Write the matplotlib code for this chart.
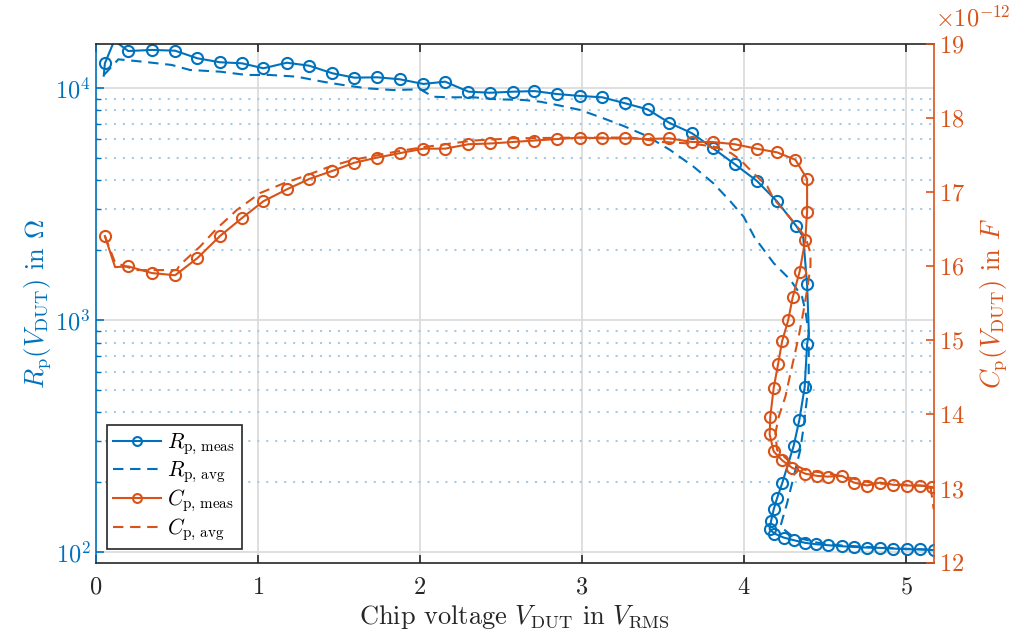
import matplotlib
matplotlib.use("Agg")
import matplotlib.pyplot as plt
from matplotlib.ticker import LogLocator, MultipleLocator, FuncFormatter, NullFormatter

plt.rcParams['font.family'] = 'serif'
plt.rcParams['font.serif'] = ['cmr10']
plt.rcParams['mathtext.fontset'] = 'cm'
plt.rcParams['axes.unicode_minus'] = False
plt.rcParams['axes.formatter.use_mathtext'] = True

BLUE = '#0072BD'
ORANGE = '#D95319'
DARK = '#262626'

# parallel resistance, measured sweep (V_RMS, Ohm)
rp_meas_v = [0.050, 0.057, 0.115, 0.201, 0.346, 0.490, 0.627, 0.767, 0.901, 1.035,
             1.179, 1.317, 1.461, 1.596, 1.738, 1.878, 2.022, 2.156, 2.300, 2.434,
             2.574, 2.707, 2.846, 2.990, 3.125, 3.267, 3.405, 3.539, 3.679, 3.809,
             3.942, 4.079, 4.204, 4.323, 4.365, 4.389, 4.400, 4.389, 4.374, 4.341,
             4.306, 4.235, 4.204, 4.183, 4.167, 4.158, 4.187, 4.244, 4.306, 4.378,
             4.446, 4.519, 4.605, 4.677, 4.759, 4.841, 4.920, 5.006, 5.088, 5.170]
rp_meas = [11300, 12780, 16000, 14430, 14590, 14480, 13430, 12910, 12780, 12160,
           12850, 12480, 11570, 11080, 11120, 10900, 10410, 10650, 9640, 9540,
           9640, 9700, 9420, 9240, 9120, 8590, 8090, 7080, 6380, 5500,
           4700, 3980, 3245, 2540, 2280, 1425, 880, 786, 513, 371,
           287, 198, 171, 153, 136.5, 125.7, 120.4, 115.7, 112.7, 109.7,
           108.2, 107.2, 106.1, 105.4, 104.7, 104.4, 103.7, 103.0, 102.8, 102.1]
rp_meas_marks = [i for i in range(len(rp_meas)) if i not in (0, 2, 34, 36)]

# parallel resistance, averaged model
rp_avg_v = [0.051, 0.140, 0.292, 0.469, 0.582, 0.767, 0.932, 1.076, 1.241, 1.403,
            1.527, 1.673, 1.835, 2.002, 2.082, 2.187, 2.331, 2.475, 2.640, 2.743,
            2.846, 2.990, 3.133, 3.257, 3.401, 3.545, 3.689, 3.812, 3.917, 3.998,
            4.065, 4.183, 4.286, 4.358, 4.378, 4.399, 4.399, 4.399, 4.368, 4.347,
            4.306, 4.265, 4.241, 4.224, 4.300, 4.450, 4.600, 4.800, 5.000, 5.170]
rp_avg = [11380, 13290, 12980, 12570, 11960, 11760, 11380, 11380, 11190, 10640,
          10300, 9970, 9800, 9870, 9170, 9120, 9120, 8940, 8880, 8730,
          8450, 8040, 7400, 6860, 6210, 5400, 4580, 3880, 3240, 2785,
          2270, 1760, 1490, 1260, 1100, 878, 630, 535, 348, 276,
          211, 162, 142, 129, 117, 110, 107, 105, 103.5, 102.5]

# parallel capacitance, measured sweep (V_RMS, pF)
cp_meas_v = [0.057, 0.120, 0.201, 0.346, 0.490, 0.627, 0.767, 0.901, 1.035, 1.179,
             1.317, 1.461, 1.596, 1.738, 1.878, 2.022, 2.156, 2.300, 2.434, 2.574,
             2.707, 2.846, 2.990, 3.125, 3.267, 3.405, 3.539, 3.679, 3.809, 3.942,
             4.077, 4.204, 4.317, 4.389, 4.389, 4.378, 4.343, 4.300, 4.272, 4.235,
             4.210, 4.183, 4.162, 4.158, 4.183, 4.235, 4.296, 4.378, 4.451, 4.516,
             4.605, 4.677, 4.759, 4.841, 4.920, 5.006, 5.088, 5.160]
cp_meas = [16.41, 15.99, 16.00, 15.91, 15.88, 16.11, 16.41, 16.65, 16.88, 17.04,
           17.18, 17.29, 17.40, 17.47, 17.53, 17.59, 17.59, 17.65, 17.66, 17.68,
           17.70, 17.72, 17.74, 17.73, 17.73, 17.72, 17.73, 17.68, 17.68, 17.65,
           17.59, 17.54, 17.44, 17.18, 16.74, 16.36, 15.93, 15.58, 15.27, 14.99,
           14.68, 14.36, 13.97, 13.73, 13.50, 13.38, 13.28, 13.20, 13.17, 13.16,
           13.17, 13.08, 13.04, 13.08, 13.05, 13.04, 13.04, 13.02]
cp_meas_marks = [i for i in range(len(cp_meas)) if i != 1]

# parallel capacitance, averaged model
cp_avg_v = [0.057, 0.120, 0.250, 0.370, 0.500, 0.520, 0.645, 0.747, 0.870, 1.014,
            1.158, 1.302, 1.446, 1.590, 1.735, 1.878, 2.022, 2.330, 2.577, 3.000,
            3.300, 3.500, 3.670, 3.810, 3.920, 3.977, 4.057, 4.144, 4.180, 4.287,
            4.378, 4.410, 4.410, 4.389, 4.368, 4.337, 4.286, 4.255, 4.214, 4.193,
            4.204, 4.286, 4.378, 4.600, 4.800, 5.000, 5.150, 5.170]
cp_avg = [16.41, 16.05, 15.95, 15.95, 15.95, 16.02, 16.27, 16.51, 16.76, 16.99,
          17.12, 17.23, 17.35, 17.44, 17.50, 17.56, 17.61, 17.70, 17.73, 17.74,
          17.74, 17.68, 17.66, 17.62, 17.53, 17.44, 17.26, 17.08, 16.92, 16.65,
          16.40, 16.18, 16.00, 15.68, 15.41, 15.05, 14.55, 14.24, 13.97, 13.74,
          13.52, 13.35, 13.25, 13.17, 13.07, 13.05, 13.03, 12.72]

cp_meas_f = [c * 1e-12 for c in cp_meas]
cp_avg_f = [c * 1e-12 for c in cp_avg]

fig = plt.figure(figsize=(10.23, 6.39), dpi=100)
ax = fig.add_axes([0.0935, 0.1197, 0.8192, 0.8110])
ax2 = ax.twinx()

lw = 1.5
mk = dict(marker='o', markersize=8, markerfacecolor='none', markeredgewidth=1.5)
dash = (5, 3.2)

h1, = ax.plot(rp_meas_v, rp_meas, color=BLUE, lw=lw, markevery=rp_meas_marks, **mk,
              label=r'$R_{\mathrm{p,\,meas}}$')
h2, = ax.plot(rp_avg_v, rp_avg, color=BLUE, lw=lw, dashes=dash, label=r'$R_{\mathrm{p,\,avg}}$')
h3, = ax2.plot(cp_meas_v, cp_meas_f, color=ORANGE, lw=lw, markevery=cp_meas_marks, **mk,
               label=r'$C_{\mathrm{p,\,meas}}$')
h4, = ax2.plot(cp_avg_v, cp_avg_f, color=ORANGE, lw=lw, dashes=dash, label=r'$C_{\mathrm{p,\,avg}}$')

# left axis: log resistance
ax.set_yscale('log')
ax.set_xlim(0, 5.17)
ax.set_ylim(90.3, 15430)
ax.xaxis.set_major_locator(MultipleLocator(1))
ax.yaxis.set_major_locator(LogLocator(base=10, numticks=10))
ax.yaxis.set_minor_locator(LogLocator(base=10, subs=range(2, 10), numticks=10))
ax.yaxis.set_minor_formatter(NullFormatter())

ax.grid(True, which='major', axis='both', color='#dcdcdc', lw=1.3, ls='-')
ax.grid(True, which='minor', axis='y', color='#a6cbe8', lw=1.5, ls=(0, (1, 3.3)))
ax.set_axisbelow(True)

ax.tick_params(axis='x', which='major', direction='in', length=6, width=1.2,
               color=DARK, labelcolor=DARK, labelsize=17.5, top=True, pad=10)
ax.tick_params(axis='y', which='major', direction='in', length=6, width=1.2,
               color=BLUE, labelcolor=BLUE, labelsize=17.5, right=False)
ax.tick_params(axis='y', which='minor', direction='in', length=3.5, width=1.0,
               color=BLUE, right=False)

for side in ('top', 'bottom'):
    ax.spines[side].set_color(DARK)
    ax.spines[side].set_linewidth(1.2)
ax.spines['left'].set_color(BLUE)
ax.spines['left'].set_linewidth(1.2)
ax.spines['right'].set_visible(False)

ax.set_xlabel(r'Chip voltage $V_{\mathrm{DUT}}$ in $V_{\mathrm{RMS}}$', fontsize=19, color=DARK,
              labelpad=3)
ax.set_ylabel(r'$R_{\mathrm{p}}(V_{\mathrm{DUT}})$ in $\mathit{\Omega}$', fontsize=19, color=BLUE,
              labelpad=2)

# right axis: capacitance in F, ticks labelled in units of 1e-12
ax2.set_ylim(12e-12, 19e-12)
ax2.yaxis.set_major_locator(MultipleLocator(1e-12))
ax2.yaxis.set_major_formatter(FuncFormatter(lambda v, _: r'$%d$' % round(v * 1e12)))
ax2.annotate(r'$\times10^{-12}$', xy=(1, 1), xycoords='axes fraction',
             xytext=(1, 9), textcoords='offset points', ha='left', va='bottom',
             fontsize=17.5, color=ORANGE)
ax2.tick_params(axis='y', direction='in', length=6, width=1.2,
                color=ORANGE, labelcolor=ORANGE, labelsize=17.5)
for side in ('left', 'top', 'bottom'):
    ax2.spines[side].set_visible(False)
ax2.spines['right'].set_color(ORANGE)
ax2.spines['right'].set_linewidth(1.2)
ax2.set_ylabel(r'$C_{\mathrm{p}}(V_{\mathrm{DUT}})$ in $F$', fontsize=19, color=ORANGE,
               rotation=90, labelpad=10)

leg = ax2.legend(handles=[h1, h2, h3, h4], loc='lower left', bbox_to_anchor=(0.0135, 0.0255),
                 borderaxespad=0, fontsize=15.5, fancybox=False, framealpha=1,
                 edgecolor=DARK, handlelength=2.2, handletextpad=0.3,
                 labelspacing=0.12, borderpad=0.3, markerscale=0.8)
leg.get_frame().set_linewidth(1.2)

fig.savefig('out.png', dpi=100)
